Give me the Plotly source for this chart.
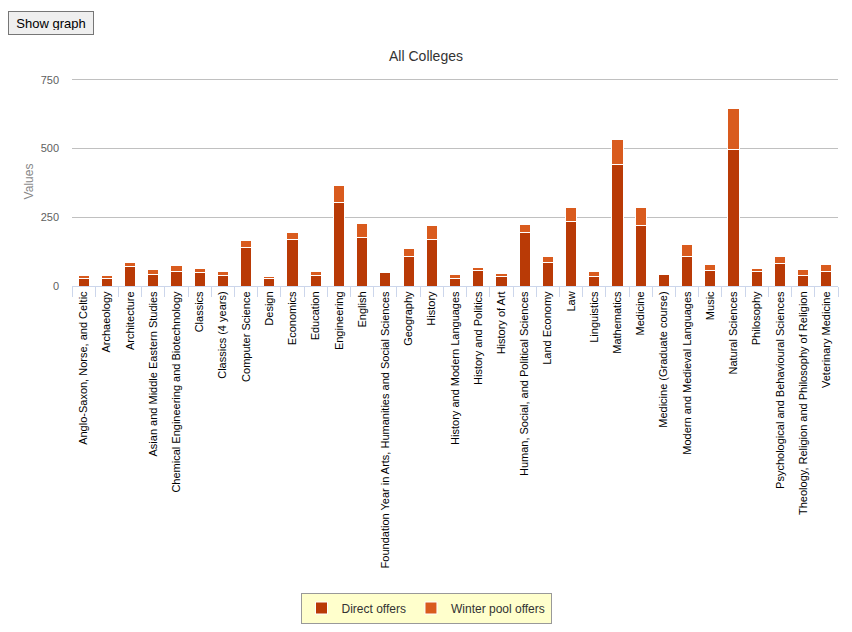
import plotly.graph_objects as go

courses = [
    "Anglo-Saxon, Norse, and Celtic", "Archaeology", "Architecture",
    "Asian and Middle Eastern Studies", "Chemical Engineering and Biotechnology",
    "Classics", "Classics (4 years)", "Computer Science", "Design", "Economics",
    "Education", "Engineering", "English",
    "Foundation Year in Arts, Humanities and Social Sciences", "Geography",
    "History", "History and Modern Languages", "History and Politics",
    "History of Art", "Human, Social, and Political Sciences", "Land Economy",
    "Law", "Linguistics", "Mathematics", "Medicine", "Medicine (Graduate course)",
    "Modern and Medieval Languages", "Music", "Natural Sciences", "Philosophy",
    "Psychological and Behavioural Sciences",
    "Theology, Religion and Philosophy of Religion", "Veterinary Medicine",
]

direct_offers = [28, 27, 70, 41, 53, 50, 38, 141, 27, 170,
                 38, 303, 176, 48, 107, 170, 27, 56, 34, 194, 85,
                 234, 34, 442, 221, 41, 107, 56, 498, 52, 81, 38, 52]

winter_pool = [10, 10, 15, 18, 21, 13, 14, 24, 7, 24,
               14, 62, 51, 0, 29, 50, 14, 11, 11, 29, 22,
               51, 18, 91, 64, 0, 43, 22, 148, 11, 26, 21, 26]

y_ticks = [0, 250, 500, 750]

FONT = "Liberation Sans, Arial, sans-serif"

# the page body has an 8px margin, so the figure is drawn 8px in from the corner
W, H = 836, 624
PLOT_L, PLOT_R, PLOT_T, PLOT_B = 64, 830, 69, 278   # plot box in figure px
pw, ph = PLOT_R - PLOT_L, PLOT_B - PLOT_T


def px_x(page_x):
    return (page_x - 8 - PLOT_L) / pw


def px_y(page_y):
    return (PLOT_B - (page_y - 8)) / ph


fig = go.Figure()
fig.add_trace(go.Bar(
    name="Direct offers", x=courses, y=direct_offers,
    marker=dict(color="#b93a06", line=dict(color="white", width=1)),
))
fig.add_trace(go.Bar(
    name="Winter pool offers", x=courses, y=winter_pool,
    marker=dict(color="#d95b1e", line=dict(color="white", width=1)),
))

fig.update_layout(
    width=W, height=H,
    margin=dict(l=PLOT_L, r=W - PLOT_R, t=PLOT_T, b=H - PLOT_B),
    barmode="stack", bargap=0.52,
    plot_bgcolor="white", paper_bgcolor="white",
    font=dict(family=FONT, size=11, color="#333333"),
    title=dict(text="All Colleges", x=0.5, xref="container", xanchor="center",
               y=1 - 48 / H, yref="container", yanchor="middle",
               font=dict(size=14, color="#333333", family=FONT)),
    legend=dict(orientation="h", x=px_x(426), xanchor="center",
                y=px_y(608), yanchor="middle",
                bgcolor="#ffffcc", bordercolor="#999999", borderwidth=1,
                font=dict(size=12, color="#333333"), traceorder="normal"),
    showlegend=True,
)

fig.update_xaxes(
    type="category", tickangle=-90, showgrid=False,
    showline=True, linecolor="#ccd6eb", linewidth=1,
    ticks="outside", tickson="boundaries", ticklen=10, tickcolor="#ccd6eb",
    tickfont=dict(size=11, color="#000000"),
)
fig.update_yaxes(
    range=[0, 760], tickvals=y_ticks, showgrid=True, gridcolor="#c0c0c0",
    zeroline=False, showline=False, ticks="", ticklabelstandoff=12,
    tickfont=dict(size=11, color="#606060"),
    title=dict(text="Values", font=dict(size=12, color="#888888"), standoff=4),
)

# stand-in for the page's "Show graph" button
fig.add_annotation(
    text="Show graph", xref="paper", yref="paper",
    x=px_x(8), y=px_y(11), xanchor="left", yanchor="top",
    showarrow=False, width=76, height=14, borderpad=4,
    bgcolor="#efefef", bordercolor="#767676", borderwidth=1,
    font=dict(size=13, color="#000000", family=FONT),
)

fig.write_html("out.html")
